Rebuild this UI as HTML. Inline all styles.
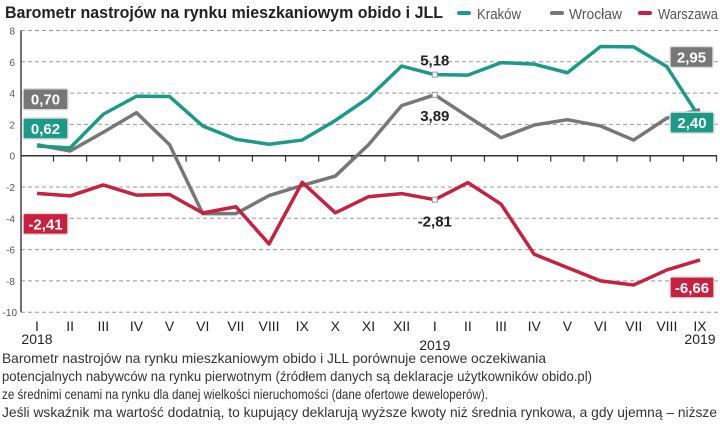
<!DOCTYPE html>
<html><head><meta charset="utf-8"><style>
html,body{margin:0;padding:0;background:#fff;width:720px;height:425px;overflow:hidden}
svg{display:block;font-family:"Liberation Sans",sans-serif}
</style></head><body>
<svg id="chart" width="720" height="425" viewBox="0 0 720 425" xmlns="http://www.w3.org/2000/svg">
<text x="5" y="18" font-size="17" font-weight="bold" fill="#222" textLength="438" lengthAdjust="spacingAndGlyphs">Barometr nastrojów na rynku mieszkaniowym obido i JLL</text>
<g>
<rect x="457" y="11" width="14" height="4" rx="2" fill="#1b9a88"/>
<text x="477" y="19" font-size="15" fill="#555" textLength="44" lengthAdjust="spacingAndGlyphs">Kraków</text>
<rect x="550" y="11" width="14" height="4" rx="2" fill="#777"/>
<text x="569" y="19" font-size="15" fill="#555" textLength="53" lengthAdjust="spacingAndGlyphs">Wrocław</text>
<rect x="638" y="11" width="14" height="4" rx="2" fill="#c8203f"/>
<text x="658" y="19" font-size="15" fill="#555" textLength="60" lengthAdjust="spacingAndGlyphs">Warszawa</text>
</g>
<g id="grid"></g><g id="axes"></g><g id="series"></g><g id="labels"></g>
<g font-size="14" fill="#333">
<text x="2" y="363" textLength="544" lengthAdjust="spacingAndGlyphs">Barometr nastrojów na rynku mieszkaniowym obido i JLL porównuje cenowe oczekiwania</text>
<text x="2" y="381" textLength="590" lengthAdjust="spacingAndGlyphs">potencjalnych nabywców na rynku pierwotnym (źródłem danych są deklaracje użytkowników obido.pl)</text>
<text x="2" y="399" textLength="486" lengthAdjust="spacingAndGlyphs">ze średnimi cenami na rynku dla danej wielkości nieruchomości (dane ofertowe deweloperów).</text>
<text x="2" y="417" textLength="715" lengthAdjust="spacingAndGlyphs">Jeśli wskaźnik ma wartość dodatnią, to kupujący deklarują wyższe kwoty niż średnia rynkowa, a gdy ujemną – niższe</text>
</g>
</svg>
<script>
const months=["I","II","III","IV","V","VI","VII","VIII","IX","X","XI","XII","I","II","III","IV","V","VI","VII","VIII","IX"];
const krakow=[0.62,0.5,2.65,3.8,3.78,1.9,1.05,0.73,1.0,2.25,3.7,5.73,5.18,5.15,5.95,5.85,5.3,6.98,6.95,5.69,2.40];
const wroclaw=[0.70,0.3,1.5,2.75,0.7,-3.7,-3.7,-2.55,-1.9,-1.3,0.7,3.2,3.89,2.5,1.15,1.96,2.3,1.9,1.0,2.4,2.95];
const warszawa=[-2.41,-2.57,-1.87,-2.52,-2.48,-3.66,-3.26,-5.64,-1.7,-3.65,-2.62,-2.42,-2.81,-1.72,-3.1,-6.3,-7.15,-8.0,-8.26,-7.3,-6.66];
const yTicks=[8,6,4,2,0,-2,-4,-6,-8,-10];
const NS="http://www.w3.org/2000/svg";
const X=i=>37+i*33.15, Y=v=>155.7-v*15.65;
function mk(t,a,p){const e=document.createElementNS(NS,t);for(const k in a)e.setAttribute(k,a[k]);p.appendChild(e);return e;}
const grid=document.getElementById('grid'),axes=document.getElementById('axes'),ser=document.getElementById('series'),lab=document.getElementById('labels');
yTicks.forEach(v=>{
 if(v!==0){const l=mk('line',{x1:21,x2:720,y1:Y(v),y2:Y(v),stroke:'#999','stroke-width':1,'stroke-dasharray':'4,3'},grid);
 
 }
 const t=mk('text',{x:v===-10?17:15,y:Y(v)+4,'font-size':10,fill:'#555','text-anchor':'end'},axes);t.textContent=v;
 
 
});
const ya=mk('line',{x1:21,x2:21,y1:Y(8),y2:Y(-10),stroke:'#444','stroke-width':1.5},axes);


const xa=mk('line',{x1:21,x2:717,y1:Y(0),y2:Y(0),stroke:'#333','stroke-width':1.5},axes);


months.forEach((m,i)=>{
 const tk=mk('line',{x1:X(i)+16.5,x2:X(i)+16.5,y1:Y(0),y2:Y(0)+6,stroke:'#333','stroke-width':1.2},axes);
 
 
 const t=mk('text',{x:X(i),y:331,'font-size':14,fill:'#222','text-anchor':'middle'},axes);t.textContent=m;
 
 
});
[[X(0),344,'2018','middle'],[X(12),350,'2019','middle'],[X(20),344,'2019','middle']].forEach(a=>{
 const t=mk('text',{x:a[0],y:a[1],'font-size':14,fill:'#222','text-anchor':a[3]},axes);t.textContent=a[2];
 
 
});
[[wroclaw,'#777','wroclaw'],[krakow,'#1b9a88','krakow'],[warszawa,'#c8203f','warszawa']].forEach(s=>{
 const p=mk('polyline',{points:s[0].map((v,i)=>X(i)+','+Y(v)).join(' '),fill:'none',stroke:s[1],'stroke-width':3.5,'stroke-linejoin':'round'},ser);
 
 
});
function box(x,y,w,txt,col,name){
 const g=mk('g',{},lab);
 
 
 mk('rect',{x:x,y:y,width:w,height:21,fill:col,stroke:'#ddd','stroke-width':1.5,rx:2},g);
 const t=mk('text',{x:x+w/2,y:y+16,'font-size':15,'font-weight':'bold',fill:'#fff','text-anchor':'middle'},g);t.textContent=txt;
}
const fmt=v=>v.toFixed(2).replace('.',',');
box(23,Y(wroclaw[0])-56,45,fmt(wroclaw[0]),'#777','label-wroclaw-start');
box(23,Y(krakow[0])-28,45,fmt(krakow[0]),'#1b9a88','label-krakow-start');
box(23,Y(warszawa[0])+20,45,fmt(warszawa[0]),'#c8203f','label-warszawa-start');
box(670,Y(wroclaw[20])-63,43,fmt(wroclaw[20]),'#777','label-wroclaw-end');
box(670,Y(krakow[20])-6,44,fmt(krakow[20]),'#1b9a88','label-krakow-end');
box(670,Y(warszawa[20])+17,44,fmt(warszawa[20]),'#c8203f','label-warszawa-end');
[[krakow,-9,'label-krakow-jan2019'],[wroclaw,26,'label-wroclaw-jan2019'],[warszawa,27,'label-warszawa-jan2019']].forEach(a=>{
 const v=a[0][12];
 const m=mk('rect',{x:X(12)-2.5,y:Y(v)-2.5,width:5,height:5,fill:'#fff',stroke:'#999','stroke-width':1},lab);
 
 
 const t=mk('text',{x:X(12),y:Y(v)+a[1],'font-size':15,'font-weight':'bold',fill:'#222','text-anchor':'middle'},lab);t.textContent=fmt(v);
 
 
});
</script>
</body></html>
